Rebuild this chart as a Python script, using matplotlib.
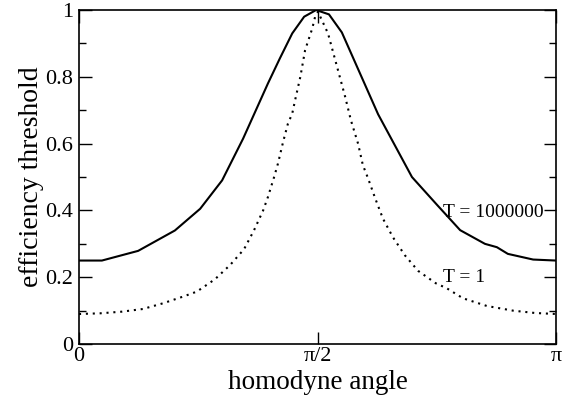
import matplotlib
matplotlib.use("Agg")
import matplotlib.pyplot as plt
from matplotlib.ticker import MultipleLocator, FixedLocator

plt.rcParams['font.family'] = ['Liberation Serif', 'DejaVu Serif']

# homodyne angle in units of pi
x_big = [0.000, 0.048, 0.124, 0.201, 0.254, 0.300, 0.344, 0.396, 0.421, 0.447,
         0.472, 0.497, 0.524, 0.551, 0.627, 0.698, 0.751, 0.799, 0.851, 0.876,
         0.899, 0.952, 1.000]
y_big = [0.25, 0.25, 0.279, 0.34, 0.405, 0.49, 0.615, 0.78, 0.855, 0.93,
         0.98, 1.0, 0.987, 0.933, 0.688, 0.50, 0.416, 0.341, 0.30, 0.29,
         0.27, 0.253, 0.25]

x_one = [0.000, 0.044, 0.090, 0.134, 0.176, 0.218, 0.247, 0.285, 0.317, 0.346,
         0.367, 0.386, 0.396, 0.409, 0.417, 0.428, 0.438, 0.447, 0.453, 0.464,
         0.474, 0.489, 0.495, 0.501, 0.509, 0.522, 0.541, 0.558, 0.570, 0.585,
         0.595, 0.606, 0.621, 0.637, 0.658, 0.683, 0.711, 0.748, 0.771, 0.805,
         0.855, 0.910, 0.956, 1.000]
y_one = [0.09, 0.092, 0.097, 0.105, 0.122, 0.142, 0.157, 0.194, 0.237, 0.284,
         0.341, 0.40, 0.44, 0.50, 0.54, 0.606, 0.66, 0.69, 0.73, 0.80,
         0.88, 0.945, 0.98, 0.995, 0.97, 0.93, 0.83, 0.74, 0.67, 0.60,
         0.536, 0.496, 0.436, 0.376, 0.32, 0.266, 0.219, 0.182, 0.167, 0.137,
         0.114, 0.10, 0.093, 0.09]

xticks = [0, 0.5, 1]
xticklabels = ['0', 'π/2', 'π']

fig = plt.figure(figsize=(5.75, 4.01), dpi=100)
ax = fig.add_axes([0.1374, 0.142, 0.8296, 0.833])

ax.plot(x_big, y_big, color='black', lw=1.5)
ax.plot(x_one, y_one, color='black', lw=1.5, linestyle=(0, (1, 2.3)))

ax.text(0.763, 0.395, 'T = 1000000', fontsize=14, va='center', ha='left')
ax.text(0.763, 0.198, 'T = 1', fontsize=14, va='center', ha='left')

ax.set_xlim(0, 1)
ax.set_ylim(0, 1)
ax.xaxis.set_major_locator(FixedLocator(xticks))
ax.set_xticklabels(xticklabels)
ax.yaxis.set_minor_locator(MultipleLocator(0.1))
ax.set_yticks([0, 0.2, 0.4, 0.6, 0.8, 1])
ax.set_yticklabels(['0', '0.2', '0.4', '0.6', '0.8', '1'])

ax.tick_params(axis='both', which='major', direction='in', length=9, width=1,
               labelsize=16, top=True, right=True, pad=4)
ax.tick_params(axis='y', which='minor', direction='in', length=5, width=1,
               right=True)
ax.tick_params(axis='x', pad=2)

for s in ax.spines.values():
    s.set_linewidth(1.2)

ax.set_xlabel('homodyne angle', fontsize=19.5, labelpad=3)
ax.set_ylabel('efficiency threshold', fontsize=20, labelpad=1)

fig.savefig('out.png', dpi=100)
